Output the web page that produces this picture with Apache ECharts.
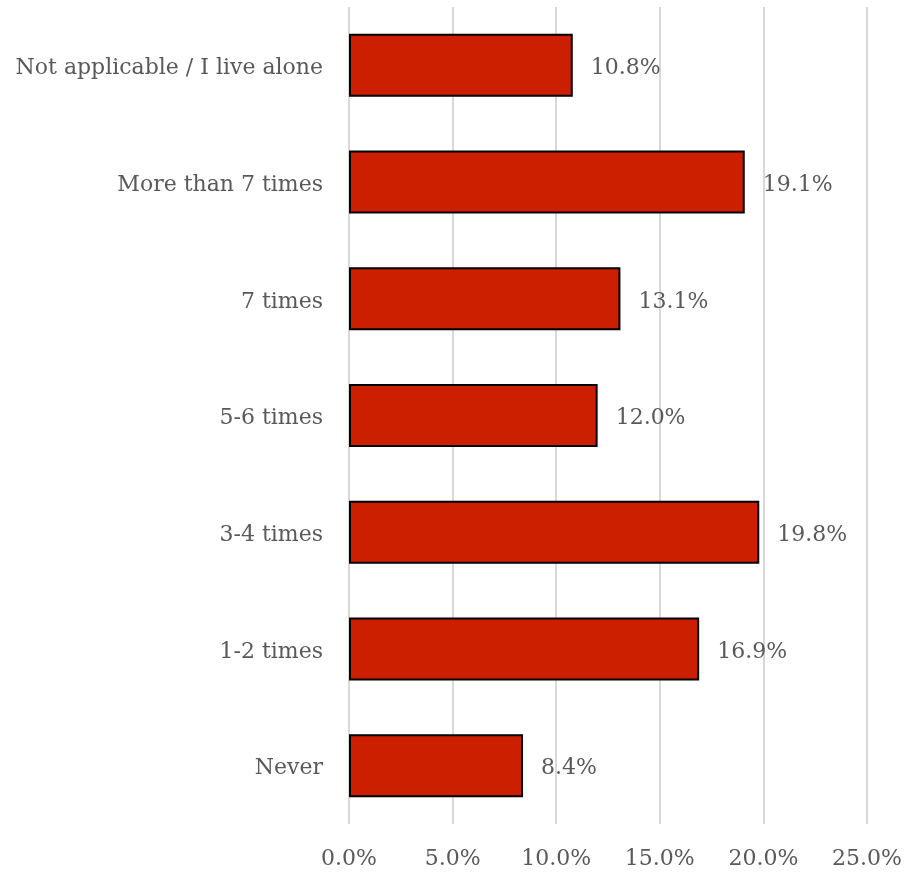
<!DOCTYPE html>
<html>
<head>
<meta charset="utf-8">
<script src="https://cdn.jsdelivr.net/npm/echarts@6/dist/echarts.min.js"></script>
<style>
  html, body { margin: 0; padding: 0; background: #ffffff; }
  #chart { width: 906px; height: 873px; }
</style>
</head>
<body>
<div id="chart"></div>
<script>
// Response categories, listed bottom to top as drawn on the category axis
const categories = [
  "Never",
  "1-2 times",
  "3-4 times",
  "5-6 times",
  "7 times",
  "More than 7 times",
  "Not applicable / I live alone"
];
// Share of respondents (%)
const shares = [8.4, 16.9, 19.8, 12.0, 13.1, 19.1, 10.8];
// Value axis ticks (%)
const tickValues = [0, 5, 10, 15, 20, 25];

const FONT = "DejaVu Serif";
const SIZE = 22;
const TEXT = "#595959";

const chart = echarts.init(document.getElementById("chart"), null, { renderer: "canvas" });
chart.setOption({
  animation: false,
  backgroundColor: "#ffffff",
  grid: { left: 349, right: 39, top: 7, bottom: 49, containLabel: false },
  xAxis: {
    type: "value",
    min: tickValues[0],
    max: tickValues[tickValues.length - 1],
    interval: 5,
    axisLine: { show: false },
    axisTick: { show: false },
    splitLine: { show: true, lineStyle: { color: "#d9d9d9", width: 2 } },
    axisLabel: {
      margin: 24,
      color: TEXT,
      fontFamily: FONT,
      fontSize: SIZE,
      formatter: v => v.toFixed(1) + "%"
    }
  },
  yAxis: {
    type: "category",
    data: categories,
    axisLine: { show: false },
    axisTick: { show: false },
    axisLabel: {
      margin: 26,
      formatter: v => "{c|" + v + "}",
      rich: {
        c: {
          color: TEXT,
          fontFamily: FONT,
          fontSize: SIZE,
          padding: [6, 0, 0, 0]
        }
      }
    }
  },
  series: [{
    type: "bar",
    data: shares,
    barCategoryGap: "46%",
    itemStyle: { color: "#cc1f00", borderColor: "#000000", borderWidth: 2 },
    label: {
      show: true,
      position: "right",
      distance: 18,
      offset: [0, 3],
      color: TEXT,
      fontFamily: FONT,
      fontSize: SIZE,
      formatter: p => p.value.toFixed(1) + "%"
    }
  }]
});
</script>
</body>
</html>
